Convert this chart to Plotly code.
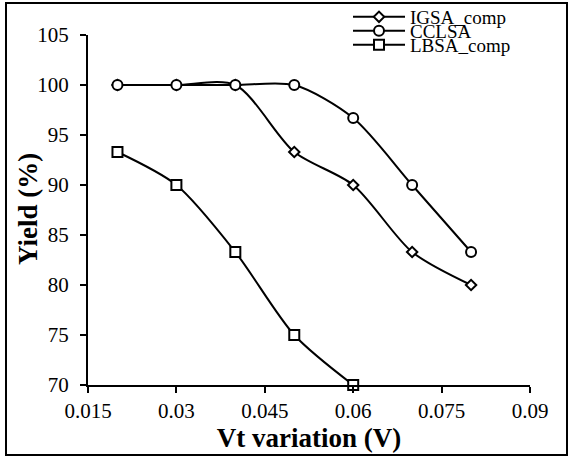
import plotly.graph_objects as go

x_vals = [0.02, 0.03, 0.04, 0.05, 0.06, 0.07, 0.08]
igsa = [100, 100, 100, 93.3, 90, 83.3, 80]
cclsa = [100, 100, 100, 100, 96.7, 90, 83.3]
x_lbsa = [0.02, 0.03, 0.04, 0.05, 0.06]
lbsa = [93.3, 90, 83.3, 75, 70]
x_ticks = [0.015, 0.03, 0.045, 0.06, 0.075, 0.09]
x_ticktext = ["0.015", "0.03", "0.045", "0.06", "0.075", "0.09"]
y_ticks = [70, 75, 80, 85, 90, 95, 100, 105]

FONT = "Liberation Serif"
W, H = 568, 459

fig = go.Figure()

def add(x, y, name, symbol, size, legend):
    fig.add_trace(go.Scatter(
        x=x, y=y, name=name, mode="lines+markers", legend=legend,
        line=dict(color="black", width=2, shape="spline", smoothing=0.8),
        marker=dict(symbol=symbol, size=size, color="white",
                    line=dict(color="black", width=2)),
        cliponaxis=False,
    ))

add(x_vals, igsa, "IGSA_comp", "diamond", 8, "legend")
add(x_vals, cclsa, "CCLSA", "circle", 10, "legend2")
add(x_lbsa, lbsa, "LBSA_comp", "square", 10, "legend3")

# plot area: x 88..530, y 35..385
PL, PR, PT, PB = 88, 530, 35, 385
PW, PH = PR - PL, PB - PT

def px2x(px):
    return (px - PL) / PW

def py2y(py):
    return (PB - py) / PH

leg_common = dict(xref="container", yref="container",
                  xanchor="left", yanchor="middle", bgcolor="rgba(0,0,0,0)",
                  font=dict(family=FONT, size=19, color="black"),
                  itemwidth=52, borderwidth=0)

fig.update_layout(
    width=W, height=H,
    margin=dict(l=PL, r=W - PR, t=PT, b=H - PB, autoexpand=False),
    paper_bgcolor="white", plot_bgcolor="white",
    font=dict(family=FONT, size=21, color="black"),
    showlegend=True,
    legend=dict(x=348 / W, y=1 - 17 / H, **leg_common),
    legend2=dict(x=348 / W, y=1 - 31 / H, **leg_common),
    legend3=dict(x=348 / W, y=1 - 45 / H, **leg_common),
    xaxis=dict(range=[0.015, 0.09], tickvals=x_ticks, ticktext=x_ticktext,
               showline=True, linecolor="black", linewidth=2,
               ticks="outside", ticklen=6, tickwidth=2, tickcolor="black",
               showgrid=False, zeroline=False,
               tickfont=dict(family=FONT, size=21),
               title=dict(text="<b>Vt variation (V)</b>",
                          font=dict(family=FONT, size=27), standoff=0)),
    yaxis=dict(range=[70, 105], tickvals=y_ticks,
               showline=True, linecolor="black", linewidth=2,
               ticks="outside", ticklen=6, tickwidth=2, tickcolor="black",
               showgrid=False, zeroline=False, ticklabelstandoff=7,
               tickfont=dict(family=FONT, size=21)),
    annotations=[dict(text="<b>Yield (%)</b>", textangle=-90,
                      xref="paper", yref="paper", x=px2x(28), y=py2y(209),
                      xanchor="center", yanchor="middle", showarrow=False,
                      font=dict(family=FONT, size=27, color="black"))],
    shapes=[dict(type="rect", xref="paper", yref="paper",
                 x0=px2x(6), x1=px2x(567),
                 y0=py2y(455), y1=py2y(3),
                 line=dict(color="black", width=2), fillcolor="rgba(0,0,0,0)",
                 layer="below")],
)

fig.write_html("out.html")
